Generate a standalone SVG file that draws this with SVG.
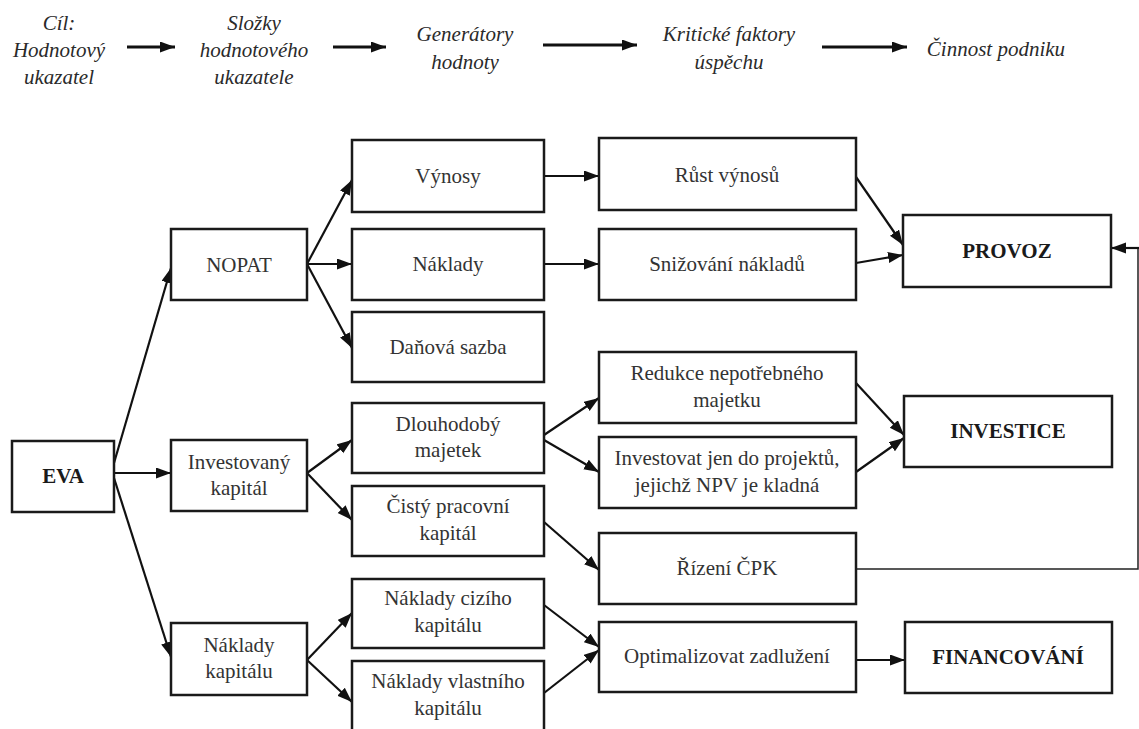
<svg xmlns="http://www.w3.org/2000/svg" width="1139" height="729" viewBox="0 0 1139 729">
<defs>
<marker id="ah" markerUnits="userSpaceOnUse" markerWidth="16" markerHeight="12" refX="15" refY="5.5" orient="auto">
<path d="M0,0 L15,5.5 L0,11 z" fill="#111"/>
</marker>
<style>
.box{fill:#fff;stroke:#1a1a1a;stroke-width:2.5}
.t{font-family:'Liberation Serif','Tinos','Times New Roman',serif;font-size:21px;fill:#333;text-anchor:middle}
.b{font-weight:bold;fill:#1a1a1a}
.h{font-family:'Liberation Serif','Tinos','Times New Roman',serif;font-size:21px;font-style:italic;fill:#2a2a2a;text-anchor:middle}
.c{fill:none;stroke:#111;stroke-width:2.2;marker-end:url(#ah)}
.hc{fill:none;stroke:#111;stroke-width:2.8;marker-end:url(#ah)}
.f{fill:none;stroke:#222;stroke-width:1.5}
</style>
</defs>
<rect width="1139" height="729" fill="#fff"/>

<g id="header">
<text class="h" x="59" y="30">Cíl:</text>
<text class="h" x="59" y="57">Hodnotový</text>
<text class="h" x="59" y="84">ukazatel</text>
<text class="h" x="254" y="30">Složky</text>
<text class="h" x="254" y="57">hodnotového</text>
<text class="h" x="254" y="84">ukazatele</text>
<text class="h" x="465" y="41">Generátory</text>
<text class="h" x="465" y="69">hodnoty</text>
<text class="h" x="729" y="41">Kritické faktory</text>
<text class="h" x="729" y="69">úspěchu</text>
<text class="h" x="996" y="56">Činnost podniku</text>
<g id="header-arrows">
<line class="hc" x1="127" y1="47" x2="175" y2="47"/>
<line class="hc" x1="333" y1="47" x2="386" y2="47"/>
<line class="hc" x1="543" y1="45" x2="637" y2="45"/>
<line class="hc" x1="822" y1="47" x2="907" y2="47"/>
</g>
</g>

<g id="connectors">
<line class="c" x1="114" y1="463" x2="171" y2="268"/>
<line class="c" x1="114" y1="473" x2="171" y2="473"/>
<line class="c" x1="114" y1="478" x2="171" y2="657"/>
<line class="c" x1="307" y1="264" x2="352" y2="180"/>
<line class="c" x1="307" y1="264" x2="352" y2="264"/>
<line class="c" x1="307" y1="264" x2="352" y2="348"/>
<line class="c" x1="307" y1="473" x2="352" y2="440"/>
<line class="c" x1="307" y1="473" x2="352" y2="520"/>
<line class="c" x1="307" y1="660" x2="352" y2="613"/>
<line class="c" x1="307" y1="660" x2="352" y2="702"/>
<line class="c" x1="544" y1="176" x2="599" y2="176"/>
<line class="c" x1="544" y1="264" x2="599" y2="264"/>
<line class="c" x1="544" y1="435" x2="599" y2="398"/>
<line class="c" x1="544" y1="440" x2="599" y2="472"/>
<line class="c" x1="544" y1="522" x2="599" y2="570"/>
<line class="c" x1="544" y1="605" x2="599" y2="647"/>
<line class="c" x1="544" y1="693" x2="599" y2="650"/>
<line class="c" x1="856" y1="177" x2="903" y2="245"/>
<line class="c" x1="856" y1="263" x2="903" y2="255"/>
<line class="c" x1="856" y1="383" x2="904" y2="435"/>
<line class="c" x1="856" y1="472" x2="904" y2="438"/>
<line class="c" x1="856" y1="660" x2="905" y2="660"/>
<polyline class="f" points="856,569 1138,569 1138,248"/>
<line class="c" x1="1139" y1="248" x2="1111" y2="248"/>
</g>

<g id="n-eva"><rect class="box" x="12" y="441" width="102" height="71"/><text class="t b" x="63" y="483">EVA</text></g>
<g id="n-nopat"><rect class="box" x="171" y="229" width="136" height="71"/><text class="t" x="239" y="272">NOPAT</text></g>
<g id="n-invkap"><rect class="box" x="171" y="440" width="136" height="71"/><text class="t" x="239" y="469">Investovaný</text><text class="t" x="239" y="495">kapitál</text></g>
<g id="n-nakkap"><rect class="box" x="171" y="623" width="136" height="72"/><text class="t" x="239" y="652">Náklady</text><text class="t" x="239" y="678">kapitálu</text></g>

<g id="n-vynosy"><rect class="box" x="352" y="140" width="192" height="72"/><text class="t" x="448" y="183">Výnosy</text></g>
<g id="n-naklady"><rect class="box" x="352" y="229" width="192" height="71"/><text class="t" x="448" y="271">Náklady</text></g>
<g id="n-dan"><rect class="box" x="352" y="312" width="192" height="70"/><text class="t" x="448" y="354">Daňová sazba</text></g>
<g id="n-dlouh"><rect class="box" x="352" y="403" width="192" height="70"/><text class="t" x="448" y="431">Dlouhodobý</text><text class="t" x="448" y="457">majetek</text></g>
<g id="n-cpk"><rect class="box" x="352" y="486" width="192" height="70"/><text class="t" x="448" y="513">Čistý pracovní</text><text class="t" x="448" y="540">kapitál</text></g>
<g id="n-ncizi"><rect class="box" x="352" y="579" width="192" height="69"/><text class="t" x="448" y="605">Náklady cizího</text><text class="t" x="448" y="632">kapitálu</text></g>
<g id="n-nvlast"><rect class="box" x="352" y="661" width="192" height="76"/><text class="t" x="448" y="688">Náklady vlastního</text><text class="t" x="448" y="715">kapitálu</text></g>

<g id="n-rust"><rect class="box" x="599" y="138" width="257" height="72"/><text class="t" x="727" y="182">Růst výnosů</text></g>
<g id="n-snizovani"><rect class="box" x="599" y="229" width="257" height="71"/><text class="t" x="727" y="271">Snižování nákladů</text></g>
<g id="n-redukce"><rect class="box" x="599" y="352" width="257" height="71"/><text class="t" x="727" y="380">Redukce nepotřebného</text><text class="t" x="727" y="407">majetku</text></g>
<g id="n-investovat"><rect class="box" x="599" y="437" width="257" height="71"/><text class="t" x="727" y="465">Investovat jen do projektů,</text><text class="t" x="727" y="492">jejichž NPV je kladná</text></g>
<g id="n-rizeni"><rect class="box" x="599" y="533" width="257" height="71"/><text class="t" x="727" y="575">Řízení ČPK</text></g>
<g id="n-optim"><rect class="box" x="599" y="622" width="257" height="70"/><text class="t" x="727" y="663">Optimalizovat zadlužení</text></g>

<g id="n-provoz"><rect class="box" x="903" y="215" width="208" height="72"/><text class="t b" x="1007" y="258">PROVOZ</text></g>
<g id="n-investice"><rect class="box" x="904" y="396" width="208" height="71"/><text class="t b" x="1008" y="438">INVESTICE</text></g>
<g id="n-financovani"><rect class="box" x="905" y="622" width="207" height="71"/><text class="t b" x="1008" y="664">FINANCOVÁNÍ</text></g>
</svg>
